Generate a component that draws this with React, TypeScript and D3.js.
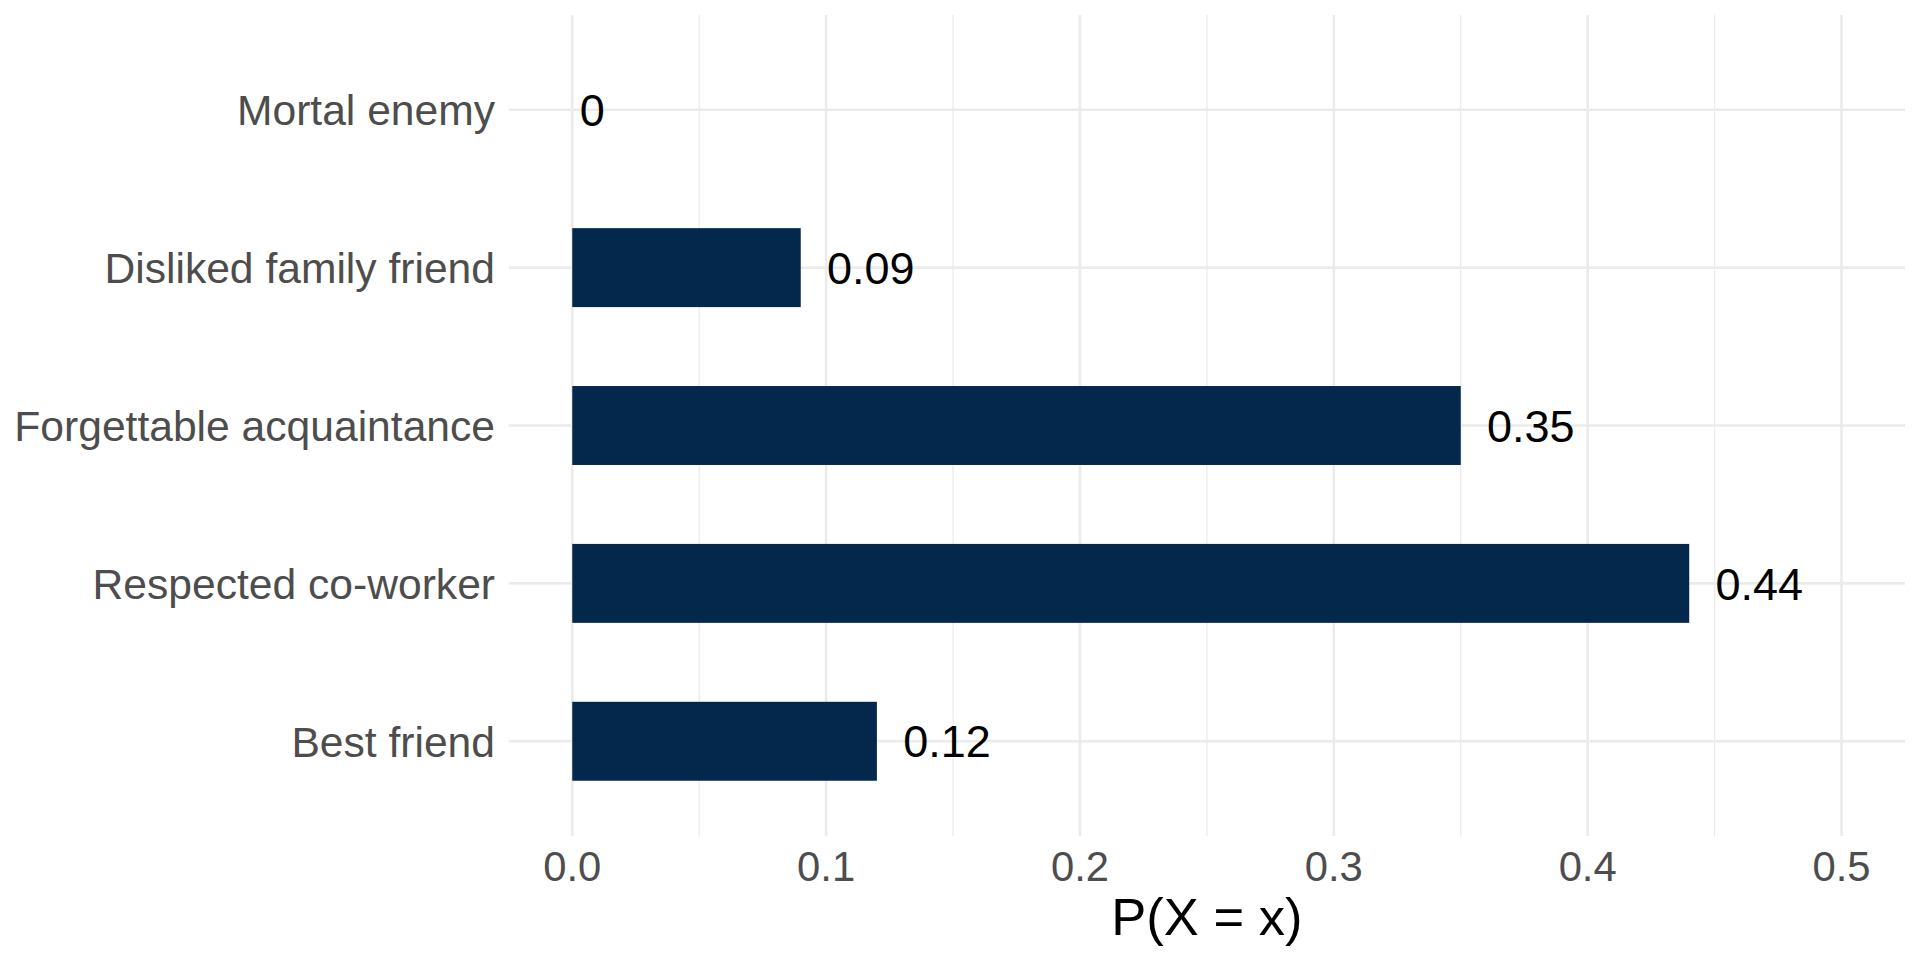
import * as d3 from 'd3'

// ── data ─────────────────────────────────────────────────────────────────────
const categories = [
  'Mortal enemy',
  'Disliked family friend',
  'Forgettable acquaintance',
  'Respected co-worker',
  'Best friend',
]
const probs = [0, 0.09, 0.35, 0.44, 0.12]
const xTicks = [0, 0.1, 0.2, 0.3, 0.4, 0.5]
const xMinor = [0.05, 0.15, 0.25, 0.35, 0.45]
const xTitle = 'P(X = x)'

// ── layout / style ───────────────────────────────────────────────────────────
const W = 1920
const H = 960
const P = { left: 508.8, right: 1905, top: 15, bottom: 836 }
const FONT = '"Liberation Sans", Arial, Helvetica, sans-serif'
const BAR = '#03284b'
const GRID = '#ebebeb'
const AXIS_TXT = '#4d4d4d'
const LABEL_SIZE = 45

// rough Arial advance widths (em) for number labels — used for ggplot-like hjust
const textWidth = (s: string, size: number) =>
  [...s].reduce((w, ch) => w + (ch === '.' ? 0.278 : 0.556), 0) * size

export default function App() {
  // ggplot-style 5% expansion around [0, 0.5]
  const x = d3.scaleLinear().domain([-0.025, 0.525]).range([P.left, P.right])
  const y = d3.scalePoint<string>().domain(categories).range([P.top, P.bottom]).padding(0.6)
  const barH = y.step() * 0.5
  const fmt = d3.format('.1f')

  return (
    <svg
      width={W}
      height={H}
      viewBox={`0 0 ${W} ${H}`}
      style={{ position: 'absolute', left: 0, top: 0, background: '#fff', fontFamily: FONT }}
    >
      {/* minor vertical grid */}
      {xMinor.map(t => (
        <line key={`mn${t}`} x1={x(t)} x2={x(t)} y1={P.top} y2={P.bottom} stroke={GRID} strokeWidth={1.3} />
      ))}
      {/* major vertical grid */}
      {xTicks.map(t => (
        <line key={`mj${t}`} x1={x(t)} x2={x(t)} y1={P.top} y2={P.bottom} stroke={GRID} strokeWidth={2.6} />
      ))}
      {/* horizontal grid */}
      {categories.map(c => (
        <line key={`hg${c}`} x1={P.left} x2={P.right} y1={y(c)} y2={y(c)} stroke={GRID} strokeWidth={2.6} />
      ))}

      {/* bars */}
      {categories.map((c, i) => (
        <rect
          key={`b${c}`}
          x={x(0)}
          y={(y(c) ?? 0) - barH / 2}
          width={x(probs[i]) - x(0)}
          height={barH}
          fill={BAR}
        />
      ))}

      {/* value labels (hjust ≈ -0.3) */}
      {categories.map((c, i) => {
        const s = String(probs[i])
        return (
          <text
            key={`v${c}`}
            x={x(probs[i]) + 0.3 * textWidth(s, LABEL_SIZE)}
            y={y(c)}
            dy="0.36em"
            fontSize={LABEL_SIZE}
            fill="#000"
          >
            {s}
          </text>
        )
      })}

      {/* y axis labels */}
      {categories.map(c => (
        <text key={`yl${c}`} x={495} y={y(c)} dy="0.36em" textAnchor="end" fontSize={42.6} fill={AXIS_TXT}>
          {c}
        </text>
      ))}

      {/* x axis labels */}
      {xTicks.map(t => (
        <text key={`xl${t}`} x={x(t)} y={880.7} textAnchor="middle" fontSize={41.8} fill={AXIS_TXT}>
          {fmt(t)}
        </text>
      ))}

      {/* x axis title */}
      <text x={(P.left + P.right) / 2} y={935} textAnchor="middle" fontSize={52.5} fill="#000">
        {xTitle}
      </text>
    </svg>
  )
}
